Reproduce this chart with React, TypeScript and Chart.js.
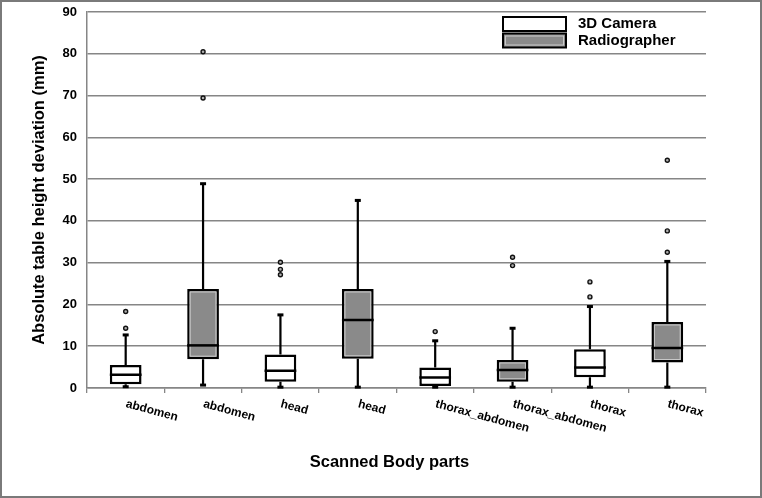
import React, { useEffect, useRef } from 'react';
import { Chart, registerables } from 'chart.js';

Chart.register(...registerables);

// ---- data ----
const categories = ['abdomen', 'abdomen', 'head', 'head', 'thorax_abdomen', 'thorax_abdomen', 'thorax', 'thorax'];
const seriesNames = ['3D Camera', 'Radiographer'];
const groupOf = [0, 1, 0, 1, 0, 1, 0, 1];
const whiskerLow = [0.3, 0.7, 0.2, 0.2, 0.2, 0.2, 0.2, 0.2];
const q1 = [0.9, 6.9, 1.5, 7.0, 0.5, 1.5, 2.6, 6.1];
const median = [3.2, 10.2, 4.1, 16.3, 2.5, 4.3, 4.9, 9.6];
const q3 = [5.5, 23.7, 8.0, 23.7, 4.9, 6.7, 9.3, 15.8];
const whiskerHigh = [12.7, 48.9, 17.5, 44.9, 11.3, 14.3, 19.5, 30.3];
const outliers = [
  [14.3, 18.3],
  [69.4, 80.5],
  [27.1, 28.4, 30.1],
  [],
  [13.5],
  [29.3, 31.3],
  [21.8, 25.4],
  [32.5, 37.6, 54.5],
];
const yTicks = [0, 10, 20, 30, 40, 50, 60, 70, 80, 90];
const yTitle = 'Absolute table height deviation (mm)';
const xTitle = 'Scanned Body parts';

const seriesFill = ['#ffffff', '#8a8a8a'];
const FONT = "'Liberation Sans', Arial, Helvetica, sans-serif";
const GRID = '#868686';

const boxPlugin = {
  id: 'boxExtras',
  afterDatasetsDraw(chart: any) {
    const ctx = chart.ctx;
    const yS = chart.scales.y;
    const meta = chart.getDatasetMeta(0);
    ctx.save();
    meta.data.forEach((bar: any, i: number) => {
      const { x, width } = bar.getProps(['x', 'width'], true);
      const top = yS.getPixelForValue(q3[i]);
      const bot = yS.getPixelForValue(q1[i]);
      if (groupOf[i] === 1) {
        ctx.strokeStyle = '#c9c9c9';
        ctx.lineWidth = 1;
        ctx.strokeRect(x - width / 2 + 3, top + 3, width - 6, bot - top - 6);
      }
      ctx.strokeStyle = '#000';
      ctx.lineWidth = 2.5;
      const my = yS.getPixelForValue(median[i]);
      ctx.beginPath();
      ctx.moveTo(x - width / 2, my);
      ctx.lineTo(x + width / 2, my);
      ctx.stroke();
      const hi = yS.getPixelForValue(whiskerHigh[i]);
      const lo = yS.getPixelForValue(whiskerLow[i]);
      ctx.lineWidth = 2.2;
      ctx.beginPath();
      ctx.moveTo(x, top);
      ctx.lineTo(x, hi);
      ctx.moveTo(x, bot);
      ctx.lineTo(x, lo);
      ctx.stroke();
      ctx.fillStyle = '#000';
      ctx.fillRect(x - 3, hi - 1.5, 6, 3);
      ctx.fillRect(x - 3, lo - 1.5, 6, 3);
    });
    ctx.restore();
  },
  afterDraw(chart: any) {
    const ctx = chart.ctx;
    const xS = chart.scales.x;
    const area = chart.chartArea;
    ctx.save();
    ctx.fillStyle = '#000';
    ctx.font = `bold 12px ${FONT}`;
    ctx.textAlign = 'left';
    ctx.textBaseline = 'top';
    categories.forEach((c, i) => {
      const px = xS.getPixelForValue(i);
      ctx.save();
      ctx.translate(px + 2, xS.top + 10);
      ctx.rotate((15 * Math.PI) / 180);
      ctx.fillText(c, 0, 0);
      ctx.restore();
    });
    ctx.font = `bold 16.5px ${FONT}`;
    ctx.textAlign = 'center';
    ctx.textBaseline = 'middle';
    ctx.fillText(xTitle, (area.left + area.right) / 2 - 7, 462);
    const lx = area.right - 203;
    const rows = [area.top + 5, area.top + 21.5];
    seriesNames.forEach((name, k) => {
      const ty = rows[k];
      ctx.fillStyle = seriesFill[k];
      ctx.fillRect(lx, ty, 63, 14);
      ctx.strokeStyle = '#000';
      ctx.lineWidth = 2;
      ctx.strokeRect(lx, ty, 63, 14);
      if (k === 1) {
        ctx.strokeStyle = '#c9c9c9';
        ctx.lineWidth = 1;
        ctx.strokeRect(lx + 2.5, ty + 2.5, 58, 9);
      }
      ctx.fillStyle = '#000';
      ctx.font = `bold 15px ${FONT}`;
      ctx.textAlign = 'left';
      ctx.textBaseline = 'middle';
      ctx.fillText(name, lx + 75, ty + 7);
    });
    ctx.strokeStyle = '#7a7a7a';
    ctx.lineWidth = 2;
    ctx.strokeRect(1, 1, chart.width - 2, chart.height - 2);
    ctx.restore();
  },
};

export default function App() {
  const ref = useRef<HTMLCanvasElement | null>(null);
  useEffect(() => {
    if (!ref.current) return;
    const maxOut = Math.max(...outliers.map((a) => a.length));
    const outlierSets: any[] = [];
    for (let k = 0; k < maxOut; k++) {
      outlierSets.push({
        type: 'line',
        label: 'outliers' + k,
        data: outliers.map((a) => (a[k] === undefined ? null : a[k])),
        showLine: false,
        pointRadius: 2,
        pointBorderWidth: 1.4,
        pointBorderColor: '#111',
        pointBackgroundColor: '#b0b0b0',
        pointStyle: 'circle',
        xAxisID: 'x',
        yAxisID: 'y',
      });
    }
    const chart = new Chart(ref.current, {
      type: 'bar',
      data: {
        labels: categories,
        datasets: [
          {
            type: 'bar',
            label: 'boxes',
            data: q1.map((v, i) => [v, q3[i]]) as any,
            backgroundColor: groupOf.map((g) => seriesFill[g]),
            borderColor: '#000',
            borderWidth: 2.5,
            borderSkipped: false,
            grouped: false,
            barPercentage: 0.41,
            categoryPercentage: 1,
            xAxisID: 'x',
            yAxisID: 'y',
          } as any,
          ...outlierSets,
        ],
      },
      options: {
        responsive: false,
        animation: false,
        layout: { padding: { top: 12, right: 56, left: 0, bottom: 0 } },
        plugins: { legend: { display: false }, tooltip: { enabled: false } },
        scales: {
          x: {
            type: 'category',
            offset: true,
            grid: {
              display: true,
              offset: true,
              drawOnChartArea: false,
              drawTicks: true,
              tickLength: 5,
              color: GRID,
              lineWidth: 1.3,
            },
            border: { display: true, color: GRID, width: 1.5 },
            ticks: { display: false },
            afterFit: (s: any) => {
              s.height = 110;
              s.paddingLeft = 0;
              s.paddingRight = 0;
            },
          },
          y: {
            min: 0,
            max: 90,
            afterBuildTicks: (s: any) => {
              s.ticks = yTicks.map((v) => ({ value: v }));
            },
            ticks: {
              color: '#000',
              font: { family: FONT, weight: 'bold', size: 13 },
              padding: 10,
            },
            grid: { color: GRID, lineWidth: 1.5, drawTicks: false },
            border: { display: true, color: GRID, width: 1.5 },
            title: {
              display: true,
              text: yTitle,
              color: '#000',
              font: { family: FONT, weight: 'bold', size: 16.5 },
              padding: { top: 30, bottom: 0 },
            },
            afterFit: (s: any) => {
              s.width = 87;
              s.paddingTop = 0;
              s.paddingBottom = 0;
            },
          },
        },
      } as any,
      plugins: [boxPlugin],
    });
    return () => chart.destroy();
  }, []);
  return (
    <div style={{ position: 'absolute', left: 0, top: 0, width: 762, height: 498, background: '#fff' }}>
      <canvas ref={ref} width={762} height={498} />
    </div>
  );
}
